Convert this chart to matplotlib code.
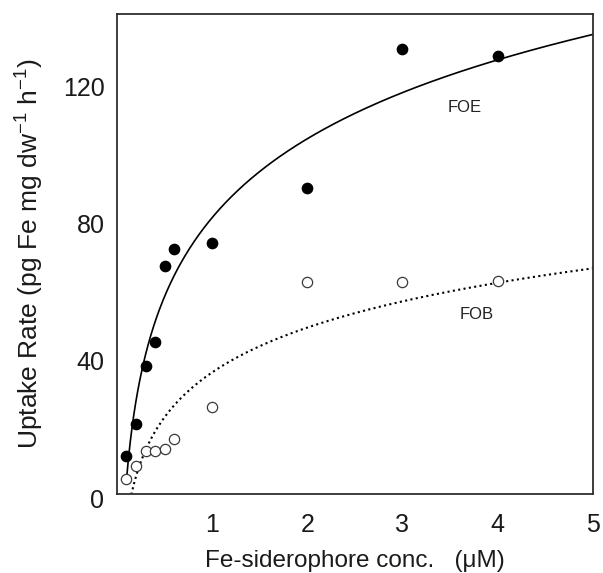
import numpy as np
import matplotlib
matplotlib.use("Agg")
import matplotlib.pyplot as plt
from matplotlib.transforms import ScaledTranslation

plt.rcParams['font.family'] = ['Liberation Sans', 'DejaVu Sans']
plt.rcParams['mathtext.fontset'] = 'custom'
plt.rcParams['mathtext.rm'] = 'Liberation Sans'
plt.rcParams['mathtext.it'] = 'Liberation Sans:italic'
plt.rcParams['mathtext.bf'] = 'Liberation Sans:bold'

# Fe-siderophore concentration (uM)
conc = [0.1, 0.2, 0.3, 0.4, 0.5, 0.6, 1.0, 2.0, 3.0, 4.0]
# uptake rates (pg Fe mg dw^-1 h^-1)
foe_rate = [11.1, 20.4, 37.3, 44.3, 66.5, 71.3, 73.3, 89.3, 129.9, 127.8]
fob_rate = [4.3, 8.2, 12.4, 12.6, 13.2, 15.9, 25.5, 61.9, 61.9, 62.1]

x_ticks = [1, 2, 3, 4, 5]
y_ticks = [0, 40, 80, 120]

fig = plt.figure(figsize=(6.03, 5.73), dpi=100)
ax = fig.add_axes([0.194, 0.138, 0.789, 0.8376])

# logarithmic regression lines through each series
xs = np.linspace(0.1, 5.0, 500)
for rate, ls, lw in ((foe_rate, '-', 1.2), (fob_rate, (0, (1, 1.6)), 1.5)):
    b, a = np.polyfit(np.log(conc), rate, 1)
    ax.plot(xs, a + b * np.log(xs), color='black', linestyle=ls, lw=lw, zorder=2)

ax.plot(conc, foe_rate, 'o', ms=7.4, mfc='black', mec='black', zorder=3)
ax.plot(conc, fob_rate, 'o', ms=7.4, mfc='white', mec='#3a3a3a', mew=0.9, zorder=3)

ax.text(3.65, 112.8, 'FOE', fontsize=12, ha='center', va='center', color='#222222')
ax.text(3.78, 52.2, 'FOB', fontsize=12, ha='center', va='center', color='#222222')

ax.set_xlim(0, 5)
ax.set_ylim(0, 140)
ax.set_xticks(x_ticks)
ax.set_yticks(y_ticks)
ax.tick_params(axis='both', length=0, labelsize=18, labelcolor='#1a1a1a')
ax.tick_params(axis='x', pad=14)
ax.tick_params(axis='y', pad=9)
for lab in ax.get_yticklabels():
    lab.set_transform(lab.get_transform() + ScaledTranslation(0, -3 / 72, fig.dpi_scale_trans))

for sp in ax.spines.values():
    sp.set_color('#2e2e2e')
    sp.set_linewidth(1.3)

ax.set_xlabel('Fe-siderophore conc.   (\u03bcM)', fontsize=17.5, labelpad=9, color='#1a1a1a')
ax.set_ylabel(r'Uptake Rate (pg Fe mg dw$^{-1}$ h$^{-1}$)', fontsize=19, labelpad=12, color='#1a1a1a')

fig.savefig('out.png', dpi=100)
